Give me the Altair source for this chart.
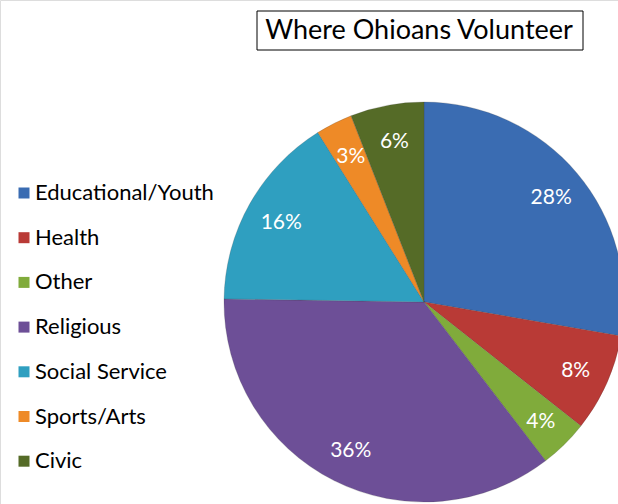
import altair as alt
import pandas as pd

categories = ["Educational/Youth", "Health", "Other", "Religious", "Social Service", "Sports/Arts", "Civic"]
values = [28, 8, 4, 36, 16, 3, 6]
labels = ["28%", "8%", "4%", "36%", "16%", "3%", "6%"]
colors = ["#3a6cb2", "#b93a36", "#80ab3b", "#6d4f97", "#2f9fc0", "#ee8a27", "#556b27"]
title_text = "Where Ohioans Volunteer"

df = pd.DataFrame({
    "category": categories,
    "value": values,
    "label": labels,
    "order": list(range(len(categories))),
})

FONT = "Lato"

base = alt.Chart(df).encode(
    theta=alt.Theta("value:Q", stack=True),
    order=alt.Order("order:Q"),
)

pie = base.mark_arc(radius=200, stroke="#3a3a3a", strokeWidth=0.4, strokeOpacity=0.5).encode(
    x=alt.value(424),
    y=alt.value(302),
    color=alt.Color(
        "category:N",
        scale=alt.Scale(domain=categories, range=colors),
        sort=categories,
        legend=alt.Legend(
            title=None,
            orient="none",
            legendX=13,
            legendY=182,
            symbolType="square",
            symbolSize=121,
            symbolStrokeWidth=0,
            labelFont=FONT,
            labelFontSize=22,
            labelColor="#000000",
            labelLimit=300,
            rowPadding=22.7,
            labelOffset=0,
        ),
    ),
)

text = base.mark_text(radius=165, font=FONT, fontSize=21, color="white").encode(
    x=alt.value(425),
    y=alt.value(304),
    text="label:N",
)

box = alt.Chart(pd.DataFrame({"t": [title_text]})).mark_rect(
    fill=None, stroke="black", strokeWidth=1
).encode(
    x=alt.value(257), x2=alt.value(583), y=alt.value(11), y2=alt.value(50)
)

title = alt.Chart(pd.DataFrame({"t": [title_text]})).mark_text(
    font=FONT, fontSize=27, color="black", align="center", baseline="middle"
).encode(
    x=alt.value(419), y=alt.value(31), text="t:N"
)

chart = alt.layer(pie, text, box, title).properties(
    width=618,
    height=504,
    padding=0,
    autosize=alt.AutoSizeParams(type="none"),
).configure_view(stroke=None).configure(background="white")

chart.save("out.html", embed_options={"renderer": "svg", "actions": False})
